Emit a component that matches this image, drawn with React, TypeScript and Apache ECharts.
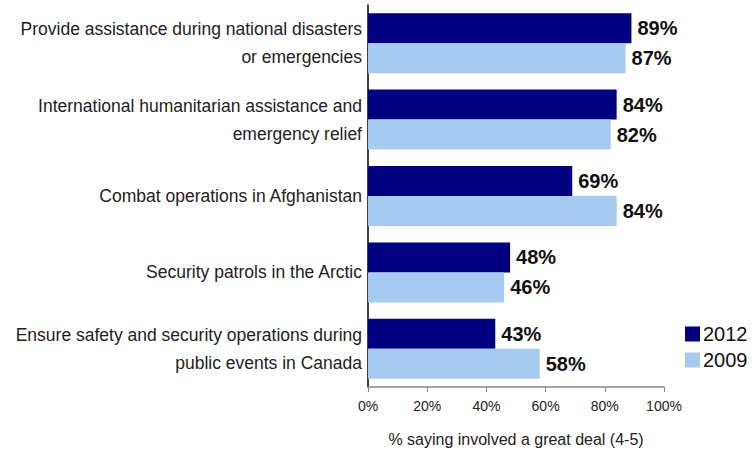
import React, { useEffect, useRef } from "react";
import * as echarts from "echarts";

const categories = [
  "Provide assistance during national disasters\nor emergencies",
  "International humanitarian assistance and\nemergency relief",
  "Combat operations in Afghanistan",
  "Security patrols in the Arctic",
  "Ensure safety and security operations during\npublic events in Canada",
];
const values2012 = [89, 84, 69, 48, 43];
const values2009 = [87, 82, 84, 46, 58];
const xTicks = [0, 20, 40, 60, 80, 100];

export default function App() {
  const ref = useRef<HTMLDivElement>(null);
  useEffect(() => {
    const chart = echarts.init(ref.current!, null, { renderer: "svg" });
    const font = "Liberation Sans";
    chart.setOption({
      animation: false,
      textStyle: { fontFamily: font },
      grid: { left: 368, right: 89, top: 5, bottom: 68 },
      legend: {
        orient: "vertical",
        left: 680,
        top: 319,
        itemWidth: 15,
        itemHeight: 15,
        itemGap: 6,
        icon: "rect",
        textStyle: { fontSize: 20, color: "#111", fontFamily: font, padding: [0, 0, 0, -2] },
        data: ["2012", "2009"],
      },
      xAxis: {
        type: "value",
        min: 0,
        max: 100,
        interval: 20,
        splitLine: { show: false },
        axisLine: { show: true, lineStyle: { color: "#888", width: 1.5 } },
        axisTick: { show: true, length: 5, lineStyle: { color: "#888" } },
        axisLabel: {
          margin: 12,
          fontSize: 14,
          color: "#222",
          fontFamily: font,
          formatter: (v: number) => (xTicks.includes(v) ? v + "%" : ""),
        },
        name: "% saying involved a great deal (4-5)",
        nameLocation: "middle",
        nameGap: 44,
        nameTextStyle: { fontSize: 16, color: "#222", fontFamily: font },
      },
      yAxis: {
        type: "category",
        inverse: true,
        data: categories,
        axisLine: { show: true, lineStyle: { color: "#000", width: 1.5 } },
        axisTick: { show: false },
        axisLabel: {
          margin: 6,
          fontSize: 17.5,
          lineHeight: 28,
          color: "#222",
          fontFamily: font,
          align: "right",
        },
      },
      series: [
        {
          name: "2012",
          type: "bar",
          data: values2012,
          barWidth: 30,
          barGap: "0%",
          itemStyle: { color: "#000080" },
          label: {
            show: true,
            position: "right",
            distance: 6,
            formatter: "{c}%",
            fontSize: 20,
            fontWeight: "bold",
            color: "#111",
            fontFamily: font,
          },
        },
        {
          name: "2009",
          type: "bar",
          data: values2009,
          barWidth: 30,
          barGap: "0%",
          itemStyle: { color: "#a6caf0" },
          label: {
            show: true,
            position: "right",
            distance: 6,
            formatter: "{c}%",
            fontSize: 20,
            fontWeight: "bold",
            color: "#111",
            fontFamily: font,
          },
        },
      ],
    });
    return () => chart.dispose();
  }, []);
  return (
    <div
      ref={ref}
      style={{ position: "absolute", left: 0, top: 0, width: 753, height: 455 }}
    />
  );
}
